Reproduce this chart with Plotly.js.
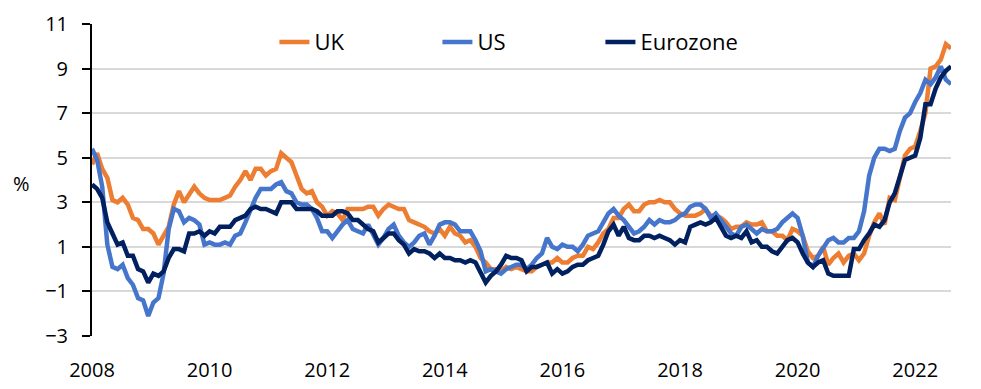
<!DOCTYPE html>
<html>
<head>
<meta charset="utf-8">
<script src="https://cdn.plot.ly/plotly-3.0.1.min.js"></script>
<style>
html,body{margin:0;padding:0;background:#fff;}
#chart{width:981px;height:389px;}
</style>
</head>
<body>
<div id="chart"></div>
<script>
// Monthly observations, Aug 2008 .. Aug 2022 (index 0..168)
const ukCPI = [
 4.7,5.2,4.5,4.1,3.1,
 3.0,3.2,2.9,2.3,2.2,1.8,1.8,1.6,1.1,1.5,1.9,2.9,
 3.5,3.0,3.4,3.7,3.4,3.2,3.1,3.1,3.1,3.2,3.3,3.7,
 4.0,4.4,4.0,4.5,4.5,4.2,4.4,4.5,5.2,5.0,4.8,4.2,
 3.6,3.4,3.5,3.0,2.8,2.4,2.6,2.5,2.2,2.7,2.7,2.7,
 2.7,2.8,2.8,2.4,2.7,2.9,2.8,2.7,2.7,2.2,2.1,2.0,
 1.9,1.7,1.6,1.8,1.5,1.9,1.6,1.5,1.2,1.3,1.0,0.5,
 0.3,0.0,0.0,-0.1,0.1,0.0,0.1,0.0,-0.1,-0.1,0.1,0.2,
 0.3,0.3,0.5,0.3,0.3,0.5,0.6,0.6,1.0,0.9,1.2,1.6,
 1.8,2.3,2.3,2.7,2.9,2.6,2.6,2.9,3.0,3.0,3.1,3.0,
 3.0,2.7,2.5,2.4,2.4,2.4,2.5,2.7,2.4,2.4,2.3,2.1,
 1.8,1.9,1.9,2.1,2.0,2.0,2.1,1.7,1.7,1.5,1.5,1.3,
 1.8,1.7,1.5,0.8,0.5,0.6,1.0,0.2,0.5,0.7,0.3,0.6,
 0.7,0.4,0.7,1.5,2.1,2.5,2.0,3.2,3.1,4.2,5.1,5.4,
 5.5,6.2,7.0,9.0,9.1,9.4,10.1,9.9
];
const usCPI = [
 5.4,4.9,3.7,1.1,0.1,
 0.0,0.2,-0.4,-0.7,-1.3,-1.4,-2.1,-1.5,-1.3,-0.2,1.8,2.7,
 2.6,2.1,2.3,2.2,2.0,1.1,1.2,1.1,1.1,1.2,1.1,1.5,
 1.6,2.1,2.7,3.2,3.6,3.6,3.6,3.8,3.9,3.5,3.4,3.0,
 2.9,2.9,2.7,2.3,1.7,1.7,1.4,1.7,2.0,2.2,1.8,1.7,
 1.6,2.0,1.5,1.1,1.4,1.8,2.0,1.5,1.2,1.0,1.2,1.5,
 1.6,1.1,1.5,2.0,2.1,2.1,2.0,1.7,1.7,1.7,1.3,0.8,
 -0.1,0.0,-0.1,-0.2,0.0,0.1,0.2,0.2,0.0,0.2,0.5,0.7,
 1.4,1.0,0.9,1.1,1.0,1.0,0.8,1.1,1.5,1.6,1.7,2.1,
 2.5,2.7,2.4,2.2,1.9,1.6,1.7,1.9,2.2,2.0,2.2,2.1,
 2.1,2.2,2.4,2.5,2.8,2.9,2.9,2.7,2.3,2.5,2.2,1.9,
 1.6,1.5,1.9,2.0,1.8,1.6,1.8,1.7,1.7,1.8,2.1,2.3,
 2.5,2.3,1.5,0.3,0.1,0.6,1.0,1.3,1.4,1.2,1.2,1.4,
 1.4,1.7,2.6,4.2,5.0,5.4,5.4,5.3,5.4,6.2,6.8,7.0,
 7.5,7.9,8.5,8.3,8.6,9.1,8.5,8.3
];
const ezHICP = [
 3.8,3.6,3.2,2.1,1.6,
 1.1,1.2,0.6,0.6,0.0,-0.1,-0.6,-0.2,-0.3,-0.1,0.5,0.9,
 0.9,0.8,1.6,1.6,1.7,1.5,1.7,1.6,1.9,1.9,1.9,2.2,
 2.3,2.4,2.7,2.8,2.7,2.7,2.6,2.5,3.0,3.0,3.0,2.7,
 2.7,2.7,2.7,2.6,2.4,2.4,2.4,2.6,2.6,2.5,2.2,2.2,
 2.0,1.8,1.7,1.2,1.4,1.6,1.6,1.3,1.1,0.7,0.9,0.8,
 0.8,0.7,0.5,0.7,0.5,0.5,0.4,0.4,0.3,0.4,0.3,-0.2,
 -0.6,-0.3,-0.1,0.2,0.6,0.5,0.5,0.4,-0.1,0.1,0.1,0.2,
 0.3,-0.2,0.0,-0.2,-0.1,0.1,0.2,0.2,0.4,0.5,0.6,1.1,
 1.7,2.0,1.5,1.9,1.4,1.3,1.3,1.5,1.5,1.4,1.5,1.4,
 1.3,1.1,1.3,1.2,1.9,2.0,2.1,2.0,2.1,2.3,1.9,1.5,
 1.4,1.5,1.4,1.7,1.2,1.3,1.0,1.0,0.8,0.7,1.0,1.3,
 1.4,1.2,0.7,0.3,0.1,0.3,0.4,-0.2,-0.3,-0.3,-0.3,-0.3,
 0.9,0.9,1.3,1.6,2.0,1.9,2.2,3.0,3.4,4.1,4.9,5.0,
 5.1,5.9,7.4,7.4,8.1,8.6,8.9,9.1
];
const seriesNames = ['UK', 'US', 'Eurozone'];
const seriesColors = ['#ED7D31', '#4676CB', '#002060'];
const monthIndex = ukCPI.map((_, i) => i);
const xTickPositions = [0, 23, 46, 69, 92, 115, 138, 161];
const xTickLabels = ['2008', '2010', '2012', '2014', '2016', '2018', '2020', '2022'];
const yTickValues = [-3, -1, 1, 3, 5, 7, 9, 11];

const FONT = 'Open Sans, Noto Sans, sans-serif';
const allSeries = [ukCPI, usCPI, ezHICP];
const traces = allSeries.map((vals, k) => ({
  type: 'scatter', mode: 'lines',
  x: monthIndex, y: vals, name: seriesNames[k],
  line: {color: seriesColors[k], width: 4.5},
  hoverinfo: 'skip'
}));

const layout = {
  width: 981, height: 389,
  margin: {l: 92, r: 30, t: 24, b: 53},
  paper_bgcolor: '#fff', plot_bgcolor: '#fff',
  font: {family: FONT, size: 20, color: '#000'},
  showlegend: true,
  legend: {
    orientation: 'h', x: 0.497, xanchor: 'center', y: 0.942, yanchor: 'middle',
    bgcolor: 'rgba(0,0,0,0)', font: {family: FONT, size: 22, color: '#000'},
    entrywidth: 118, itemwidth: 30
  },
  xaxis: {
    range: [0, 168], tickmode: 'array', tickvals: xTickPositions, ticktext: xTickLabels,
    showgrid: false, zeroline: false, showline: false,
    ticks: 'outside', ticklen: 16, tickcolor: 'rgba(0,0,0,0)',
    tickfont: {family: FONT, size: 20, color: '#000'}
  },
  xaxis2: {
    range: [0, 168], overlaying: 'x', anchor: 'free', position: 3/14, side: 'bottom',
    tickmode: 'array', tickvals: xTickPositions,
    showticklabels: false, showgrid: false, zeroline: false,
    showline: true, linecolor: '#000', linewidth: 2,
    ticks: 'outside', ticklen: 7, tickwidth: 2, tickcolor: '#000'
  },
  yaxis: {
    range: [-3, 11], tickmode: 'array', tickvals: yTickValues,
    showgrid: true, gridcolor: '#d9d9d9', gridwidth: 2,
    zeroline: false, showline: true, linecolor: '#000', linewidth: 2,
    ticks: 'outside', ticklen: 8, tickwidth: 2, tickcolor: '#000',
    ticklabelstandoff: 10,
    tickfont: {family: FONT, size: 20, color: '#000'}
  },
  annotations: [{
    text: '%', xref: 'paper', yref: 'paper', x: -0.0815, y: 0.49,
    xanchor: 'center', yanchor: 'middle', showarrow: false,
    font: {family: FONT, size: 20, color: '#000'}
  }]
};

Plotly.newPlot('chart', traces, layout, {displayModeBar: false, staticPlot: true});
</script>
</body>
</html>
